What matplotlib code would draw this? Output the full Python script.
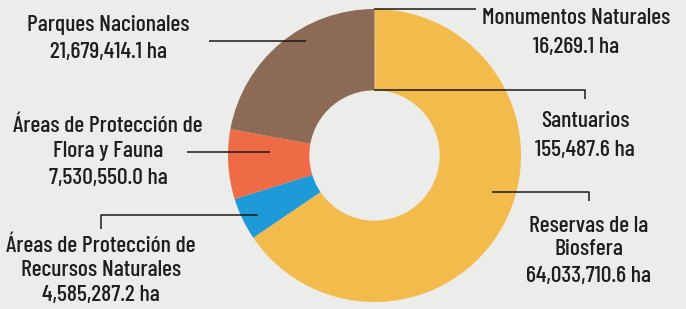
import matplotlib.pyplot as plt

# data
categories = ["Monumentos Naturales", "Santuarios", "Reservas de la\nBiosfera",
              "Áreas de Protección de\nRecursos Naturales",
              "Áreas de Protección de\nFlora y Fauna", "Parques Nacionales"]
hectares = [16269.1, 155487.6, 64033710.6, 4585287.2, 7530550.0, 21679414.1]
value_labels = ["16,269.1 ha", "155,487.6 ha", "64,033,710.6 ha",
                "4,585,287.2 ha", "7,530,550.0 ha", "21,679,414.1 ha"]
colors = ["#F3BB4C", "#F3BB4C", "#F3BB4C", "#1F9AD8", "#EE6B46", "#8C6A55"]

plt.rcParams["font.family"] = ["Barlow Condensed", "DejaVu Sans"]

W, H = 686, 309
fig = plt.figure(figsize=(W / 100, H / 100), dpi=100, facecolor="#ECECEA")
ax = fig.add_axes([0, 0, 1, 1])
ax.set_aspect("equal")

cx, cy, R = 374.5, H - 155.5, 146.5
ax.pie(hectares, colors=colors, startangle=90, counterclock=False,
       center=(cx, cy), radius=R, wedgeprops=dict(width=R * 0.555, linewidth=0),
       frame=True)
ax.set_xlim(0, W)
ax.set_ylim(0, H)
ax.axis("off")

# label layout: (leader polyline in image px, label x, y of each text line)
layout = [
    ([(374, 9), (476, 9)], 576, [18, 47]),
    ([(374, 90), (585, 90), (585, 99)], 585, [121, 150]),
    ([(492, 192), (589, 192), (589, 201)], 589, [226, 249, 276]),
    ([(258, 215), (101, 215), (101, 229)], 101, [246, 270, 295]),
    ([(270, 152), (187, 152)], 108, [126, 151, 178]),
    ([(306, 41), (209, 41)], 108, [25, 52]),
]
for (pts, tx, tys), name, val in zip(layout, categories, value_labels):
    xs = [p[0] for p in pts]
    ys = [H - p[1] for p in pts]
    ax.plot(xs, ys, color="#1a1a1a", lw=1.1, solid_capstyle="butt")
    lines = name.split("\n") + [val]
    for t, ty in zip(lines, tys):
        ax.text(tx, H - ty, t, ha="center", va="center",
                fontsize=17, fontweight=500, color="#1e1e1e")

fig.savefig("out.png", dpi=100, facecolor=fig.get_facecolor())
